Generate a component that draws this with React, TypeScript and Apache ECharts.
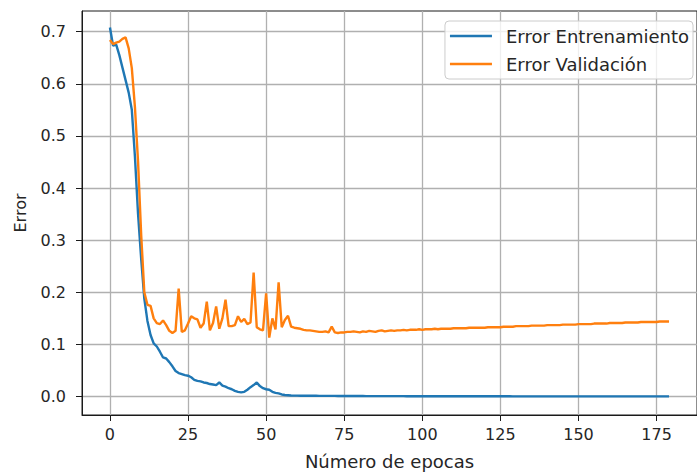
import React, { useEffect, useRef } from "react";
import * as echarts from "echarts";

// Tick positions on both axes
const epochTicks = [0, 25, 50, 75, 100, 125, 150, 175];
const errorTicks = [0, 0.1, 0.2, 0.3, 0.4, 0.5, 0.6, 0.7];

const seriesNames = ["Error Entrenamiento", "Error Validación"];

// Training error per epoch (0..179)
const trainError = [
  0.708, 0.673, 0.675, 0.655, 0.631, 0.607, 0.583, 0.55, 0.46, 0.35,
  0.264, 0.188, 0.145, 0.118, 0.102, 0.096, 0.086, 0.075, 0.073, 0.066,
  0.058, 0.049, 0.045, 0.043, 0.041, 0.04, 0.037, 0.032, 0.03, 0.029,
  0.027, 0.026, 0.024, 0.023, 0.022, 0.027, 0.021, 0.019, 0.016, 0.014,
  0.011, 0.009, 0.008, 0.009, 0.013, 0.018, 0.022, 0.027, 0.02, 0.016,
  0.014, 0.013, 0.009, 0.007, 0.006, 0.004, 0.003, 0.0025, 0.002, 0.0018,
  0.0017, 0.0016, 0.0016, 0.0015, 0.0015, 0.0014, 0.0014, 0.0013, 0.0013, 0.0013,
  0.0012, 0.0012, 0.0012, 0.0011, 0.0011, 0.0011, 0.0011, 0.001, 0.001, 0.001,
  0.001, 0.001, 0.0009, 0.0009, 0.0009, 0.0009, 0.0009, 0.0009, 0.0008, 0.0008,
  0.0008, 0.0008, 0.0008, 0.0008, 0.0008, 0.0007, 0.0007, 0.0007, 0.0007, 0.0007,
  0.0007, 0.0007, 0.0007, 0.0007, 0.0006, 0.0006, 0.0006, 0.0006, 0.0006, 0.0006,
  0.0006, 0.0006, 0.0006, 0.0006, 0.0006, 0.0005, 0.0005, 0.0005, 0.0005, 0.0005,
  0.0005, 0.0005, 0.0005, 0.0005, 0.0005, 0.0005, 0.0005, 0.0005, 0.0005, 0.0004,
  0.0004, 0.0004, 0.0004, 0.0004, 0.0004, 0.0004, 0.0004, 0.0004, 0.0004, 0.0004,
  0.0004, 0.0004, 0.0004, 0.0004, 0.0004, 0.0004, 0.0004, 0.0004, 0.0004, 0.0004,
  0.0004, 0.0004, 0.0004, 0.0004, 0.0004, 0.0003, 0.0003, 0.0003, 0.0003, 0.0003,
  0.0003, 0.0003, 0.0003, 0.0003, 0.0003, 0.0003, 0.0003, 0.0003, 0.0003, 0.0003,
  0.0003, 0.0003, 0.0003, 0.0003, 0.0003, 0.0003, 0.0003, 0.0003, 0.0003, 0.0003,
];

// Validation error per epoch (0..179)
const valError = [
  0.684, 0.676, 0.679, 0.681, 0.686, 0.689, 0.668, 0.63, 0.555, 0.45,
  0.31, 0.2, 0.176, 0.174, 0.15, 0.141, 0.139, 0.146, 0.137, 0.126,
  0.122, 0.126, 0.207, 0.124, 0.127, 0.14, 0.154, 0.15, 0.148, 0.132,
  0.14, 0.182, 0.127, 0.141, 0.173, 0.13, 0.15, 0.186, 0.135, 0.135,
  0.137, 0.154, 0.143, 0.149, 0.139, 0.142, 0.238, 0.133, 0.129, 0.127,
  0.198, 0.113, 0.15, 0.129, 0.219, 0.133, 0.147, 0.155, 0.134, 0.132,
  0.131, 0.13, 0.128, 0.127, 0.127, 0.126, 0.125, 0.124, 0.124, 0.125,
  0.123, 0.134, 0.123, 0.122, 0.123, 0.123, 0.124, 0.124, 0.125, 0.124,
  0.123, 0.125, 0.124, 0.126, 0.125, 0.124, 0.126, 0.127, 0.125, 0.126,
  0.127, 0.126, 0.127, 0.127, 0.128, 0.127, 0.128, 0.128, 0.128, 0.129,
  0.128, 0.129, 0.129, 0.129, 0.13, 0.129, 0.13, 0.13, 0.13, 0.13,
  0.131, 0.131, 0.131, 0.131, 0.131, 0.132, 0.132, 0.132, 0.132, 0.132,
  0.132, 0.133, 0.133, 0.133, 0.133, 0.133, 0.134, 0.134, 0.134, 0.134,
  0.135, 0.135, 0.135, 0.135, 0.135, 0.136, 0.136, 0.136, 0.136, 0.136,
  0.137, 0.137, 0.137, 0.137, 0.137, 0.138, 0.138, 0.138, 0.138, 0.138,
  0.139, 0.139, 0.139, 0.139, 0.139, 0.14, 0.14, 0.14, 0.14, 0.14,
  0.141, 0.141, 0.141, 0.141, 0.141, 0.142, 0.142, 0.142, 0.142, 0.142,
  0.143, 0.143, 0.143, 0.143, 0.143, 0.143, 0.144, 0.144, 0.144, 0.144,
];

const FONT = "DejaVu Sans";
const TEXT = "#262626";
const GRID = "#b0b0b0";
const SPINE = "#1a1a1a";

export default function App() {
  const ref = useRef<HTMLDivElement>(null);

  useEffect(() => {
    if (!ref.current) return;
    const chart = echarts.init(ref.current, null, { renderer: "svg" });

    // 5% padding around the data range on the epoch axis
    const last = trainError.length - 1;
    const xMin = -last * 0.05;
    const xMax = last * 1.05;

    const toPairs = (arr: number[]) => arr.map((v, i) => [i, v]);

    chart.setOption({
      animation: false,
      backgroundColor: "#ffffff",
      textStyle: { fontFamily: FONT },
      grid: {
        left: 82,
        right: -9,
        top: 11,
        bottom: 59,
        show: true,
        borderColor: SPINE,
        borderWidth: 1,
      },
      legend: {
        orient: "vertical",
        right: 4,
        top: 21,
        icon: "rect",
        itemWidth: 42,
        itemHeight: 2.5,
        itemGap: 10,
        backgroundColor: "rgba(255,255,255,0.8)",
        borderColor: "#cccccc",
        borderWidth: 1,
        borderRadius: 4,
        padding: [6, 4, 6, 5],
        textStyle: {
          fontFamily: FONT,
          fontSize: 18,
          color: TEXT,
          padding: [0, 0, 0, 9],
        },
        data: seriesNames,
      },
      xAxis: {
        type: "value",
        min: xMin,
        max: xMax,
        name: "Número de epocas",
        nameLocation: "middle",
        nameGap: 37,
        nameTextStyle: { fontFamily: FONT, fontSize: 18, color: TEXT },
        axisLine: { show: true, onZero: false, lineStyle: { color: SPINE, width: 1 } },
        axisTick: {
          show: true,
          length: 6,
          customValues: epochTicks,
          lineStyle: { color: SPINE, width: 1 },
        },
        axisLabel: {
          customValues: epochTicks,
          margin: 11,
          fontFamily: FONT,
          fontSize: 16,
          color: TEXT,
        },
        splitLine: { show: true, lineStyle: { color: GRID, width: 1.3 } },
      },
      yAxis: {
        type: "value",
        min: -0.0354,
        max: 0.7396,
        name: "Error",
        nameLocation: "middle",
        nameRotate: 90,
        nameGap: 54,
        nameTextStyle: { fontFamily: FONT, fontSize: 16, color: TEXT },
        axisLine: { show: true, onZero: false, lineStyle: { color: SPINE, width: 1 } },
        axisTick: {
          show: true,
          length: 6,
          customValues: errorTicks,
          lineStyle: { color: SPINE, width: 1 },
        },
        axisLabel: {
          customValues: errorTicks,
          margin: 16,
          fontFamily: FONT,
          fontSize: 16,
          color: TEXT,
          formatter: (v: number) => v.toFixed(1),
        },
        splitLine: { show: true, lineStyle: { color: GRID, width: 1.3 } },
      },
      series: [
        {
          name: seriesNames[0],
          type: "line",
          data: toPairs(trainError),
          symbol: "none",
          lineStyle: { color: "#1f77b4", width: 2.4 },
          itemStyle: { color: "#1f77b4" },
        },
        {
          name: seriesNames[1],
          type: "line",
          data: toPairs(valError),
          symbol: "none",
          lineStyle: { color: "#ff7f0e", width: 2.4 },
          itemStyle: { color: "#ff7f0e" },
        },
      ],
    });

    return () => chart.dispose();
  }, []);

  return (
    <div
      ref={ref}
      style={{ position: "fixed", left: 0, top: 0, width: 697, height: 475 }}
    />
  );
}
